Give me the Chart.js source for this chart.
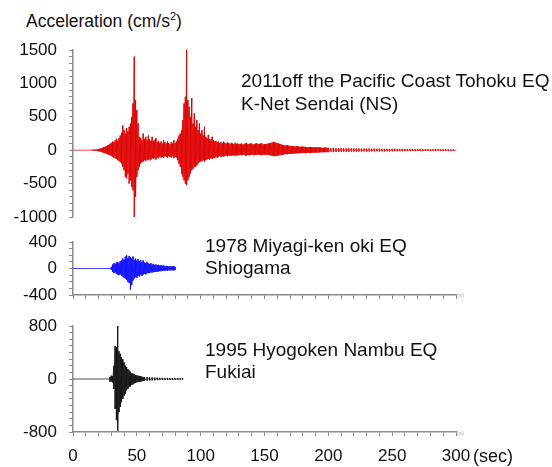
<!DOCTYPE html>
<html><head><meta charset="utf-8">
<script src="https://cdn.jsdelivr.net/npm/chart.js@4/dist/chart.umd.min.js"></script>
<style>
html,body{margin:0;padding:0;background:#fff;}
#wrap{position:relative;width:552px;height:467px;overflow:hidden;font-family:"Liberation Sans",Arial,sans-serif;color:#111;}
canvas{position:absolute;left:0;}
.lbl{position:absolute;font-size:19px;line-height:22px;white-space:nowrap;}
.title{position:absolute;font-size:17.5px;line-height:22px;white-space:nowrap;}
.tiny{position:absolute;font-size:6px;line-height:6px;color:#aaa;}
sup{font-size:11px;line-height:0;vertical-align:7px;}
</style></head><body>
<div id="wrap">
<canvas id="c1" width="552" height="194" style="top:36px"></canvas>
<canvas id="c2" width="552" height="78" style="top:229px"></canvas>
<canvas id="c3" width="552" height="154" style="top:313px"></canvas>
<div class="title" style="left:26px;top:10px">Acceleration (cm/s<sup>2</sup>)</div>
<div class="lbl" style="left:241px;top:69px;line-height:23px">2011off the Pacific Coast Tohoku EQ<br>K-Net Sendai (NS)</div>
<div class="lbl" style="left:205px;top:235px">1978 Miyagi-ken oki EQ<br>Shiogama</div>
<div class="lbl" style="left:205px;top:339px">1995 Hyogoken Nambu EQ<br>Fukiai</div>
<div class="lbl" style="left:473px;top:445px;font-size:18px">(sec)</div>
<div class="tiny" style="left:457px;top:292px">(s)</div>
<div class="tiny" style="left:457px;top:430px">(s)</div>
</div>
<script>
// [time (s), upper envelope, lower envelope] in cm/s^2
const tohokuEnv = [
[0,0,0],[14,0,0],
[15,5,-5],[16,6,-6],[17,8,-7],[18,10,-9],[19,12,-12],
[20,18,-15],[21,22,-20],[22,30,-25],[23,35,-32],[24,45,-40],[25,50,-45],[26,60,-50],[27,70,-60],[28,80,-70],[29,95,-75],
[30,110,-90],[31,130,-100],[32,120,-110],[33,150,-120],[34,170,-130],[35,140,-150],[36,180,-160],[37,220,-180],[38,260,-200],[39,370,-250],
[40,300,-300],[41,250,-400],[42,330,-420],[43,280,-350],[44,350,-500],[45,400,-450],[46,500,-550],[47,700,-600],[48,1400,-1000],[49,750,-700],
[50,600,-400],[51,400,-300],[52,200,-250],[53,180,-200],[54,150,-180],[55,250,-170],[56,170,-150],[57,200,-160],[58,150,-140],[59,220,-150],
[60,160,-130],[61,140,-150],[62,200,-120],[63,130,-130],[64,150,-120],[65,180,-140],[66,120,-110],[67,140,-120],[68,110,-100],[69,130,-110],
[70,100,-100],[71,150,-110],[72,120,-90],[73,100,-100],[74,130,-110],[75,110,-90],[76,90,-100],[77,120,-110],[78,100,-90],[79,150,-120],
[80,110,-100],[81,130,-110],[82,170,-150],[83,220,-200],[84,250,-250],[85,300,-350],[86,450,-400],[87,700,-450],[88,800,-500],[89,1500,-520],
[90,750,-450],[91,650,-400],[92,500,-350],[93,780,-300],[94,400,-280],[95,550,-250],[96,350,-250],[97,450,-230],[98,300,-200],[99,400,-180],
[100,250,-170],[101,300,-160],[102,220,-150],[103,350,-170],[104,200,-150],[105,180,-140],[106,230,-130],[107,170,-140],[108,160,-120],[109,200,-130],
[110,150,-110],[111,130,-120],[112,140,-100],[113,120,-110],[114,130,-100],[115,110,-90],[116,120,-100],[117,100,-90],[118,130,-95],[119,110,-90],
[120,100,-85],[121,120,-90],[122,105,-80],[123,95,-85],[124,110,-80],[125,100,-75],[126,90,-80],[127,110,-85],[128,95,-75],[129,100,-80],
[130,90,-70],[131,95,-72],[132,100,-75],[133,85,-70],[134,90,-70],[135,105,-78],[136,110,-80],[137,90,-72],[138,95,-75],[139,100,-68],
[140,100,-70],[141,88,-72],[142,90,-75],[143,98,-66],[144,105,-70],[145,92,-68],[146,95,-65],[147,102,-72],[148,100,-75],[149,88,-66],
[150,90,-65],[151,94,-68],[152,95,-70],[153,100,-72],[154,105,-75],[155,110,-78],[156,115,-80],[157,125,-88],[158,120,-90],[159,112,-85],
[160,105,-82],[161,100,-78],[162,95,-75],[163,88,-72],[164,80,-68],[165,75,-65],[166,70,-60],[167,72,-58],[168,75,-60],[169,68,-56],
[170,65,-55],[171,62,-52],[172,60,-50],[173,58,-52],[174,55,-50],[175,58,-46],[176,60,-45],[177,54,-46],[178,50,-45],[179,52,-42],
[180,55,-40],[181,50,-44],[182,50,-45],[183,47,-40],[184,45,-40],[185,48,-38],[186,50,-40],[187,46,-37],[188,45,-35],[189,42,-36],
[190,40,-35],[191,43,-34],[192,45,-35],[193,41,-32],[194,40,-30],[195,37,-31],[196,35,-30],[197,38,-29],[198,40,-30],[199,36,-29],
[200,35,-30],[202,30,-25],[204,35,-28],[206,30,-25],[208,28,-24],
[210,30,-25],[212,28,-22],[214,25,-22],[216,28,-24],[218,25,-20],
[220,26,-22],[222,24,-20],[224,26,-20],[226,22,-20],[228,25,-18],
[230,22,-20],[232,24,-18],[234,20,-18],[236,22,-18],[238,20,-16],
[240,22,-18],[242,20,-16],[244,18,-16],[246,20,-15],[248,18,-16],
[250,20,-15],[252,18,-14],[254,17,-15],[256,18,-14],[258,16,-14],
[260,18,-14],[262,16,-13],[264,15,-14],[266,16,-12],[268,15,-13],
[270,16,-12],[272,14,-12],[274,15,-12],[276,13,-11],[278,14,-12],
[280,13,-11],[282,12,-11],[284,13,-10],[286,12,-10],[288,11,-10],
[290,12,-10],[292,11,-9],[294,10,-9],[296,10,-8],[298,9,-8],[300,0,0]
];
const miyagiEnv = [
[0,0,0],[29.5,0,0],
[30,20,-20],[31,60,-50],[32,80,-70],[33,70,-60],[34,90,-80],[35,100,-90],[36,80,-100],[37,110,-90],[38,120,-110],[39,150,-120],
[40,130,-140],[41,180,-150],[42,200,-170],[43,160,-200],[44,190,-220],[45,170,-320],[46,150,-250],[47,180,-180],[48,130,-150],[49,150,-130],
[50,120,-140],[51,140,-110],[52,110,-120],[53,130,-100],[54,100,-110],[55,120,-90],[56,90,-80],[57,80,-90],[58,100,-70],[59,75,-70],
[60,70,-65],[61,80,-60],[62,60,-60],[63,70,-55],[64,55,-50],[65,60,-50],[66,50,-45],[67,55,-45],[68,45,-40],[69,50,-40],
[70,40,-35],[71,45,-35],[72,35,-30],[73,40,-30],[74,35,-30],[75,30,-25],[76,35,-30],[77,30,-25],[78,30,-25],[79,35,-30],[80,25,-20]
];
const hyogoEnv = [
[0,0,0],[28.5,0,0],
[29,30,-40],[30,50,-40],[31,40,-50],[32,200,-150],[33,500,-450],[34,480,-620],[35,800,-780],[36,420,-500],[37,380,-420],[38,330,-350],[39,300,-300],
[40,250,-250],[41,200,-220],[42,180,-170],[43,150,-150],[44,130,-120],[45,110,-110],[46,90,-90],[47,80,-80],[48,70,-65],[49,60,-60],
[50,55,-50],[51,50,-45],[52,45,-40],[53,40,-40],[54,35,-35],[55,30,-30],[56,30,-28],[58,28,-25],[60,25,-22],[62,22,-20],
[64,20,-18],[66,18,-16],[68,16,-15],[70,15,-14],[72,14,-12],[74,12,-12],[76,12,-10],[78,10,-10],[80,10,-9],[82,9,-8],[84,8,-8],[86,8,-7]
];
const xTickLabels = [0, 50, 100, 150, 200, 250, 300];
const tohokuTickLabels = [1500, 1000, 500, 0, -500, -1000];
const miyagiTickLabels = [400, 0, -400];
const hyogoTickLabels = [800, 0, -800];

function zigzag(env) {
  const pts = [];
  env.forEach(([t, hi, lo]) => {
    pts.push({x: t, y: hi});
    if (lo !== hi) pts.push({x: t, y: lo});
  });
  return pts;
}

const FONT = {family: '"Liberation Sans", Arial, sans-serif', size: 17};
const AXIS_COLOR = '#8a8a8a';
function noPad(s) { s.paddingTop = 0; s.paddingBottom = 0; s.paddingLeft = 0; s.paddingRight = 0; }

function makeChart(id, env, color, yMin, yMax, yLabels, xMode, pad) {
  const xScale = {
    type: 'linear', min: 0, max: 300,
    display: xMode !== 'none',
    border: {display: true, color: AXIS_COLOR, width: 1.5},
    grid: {drawOnChartArea: false, drawTicks: true, tickLength: 4, color: AXIS_COLOR},
    ticks: {
      stepSize: 10, autoSkip: false, maxRotation: 0, padding: 10,
      color: '#111', font: FONT,
      callback: v => (xMode === 'labels' && xTickLabels.includes(v)) ? String(v) : ''
    },
    afterFit: s => { s.height = xMode === 'labels' ? 35 : (xMode === 'ticks' ? 8 : 0); noPad(s); }
  };
  return new Chart(document.getElementById(id), {
    type: 'line',
    data: {datasets: [{
      data: zigzag(env), borderColor: color, borderWidth: 1,
      pointRadius: 0, tension: 0, fill: false
    }]},
    options: {
      responsive: false, animation: false, events: [],
      layout: {padding: {left: 0, right: 96, top: pad[0], bottom: pad[1]}},
      plugins: {legend: {display: false}, tooltip: {enabled: false}},
      scales: {
        x: xScale,
        y: {
          min: yMin, max: yMax,
          border: {display: true, color: AXIS_COLOR, width: 1.5},
          grid: {drawOnChartArea: false, tickLength: 4, color: AXIS_COLOR},
          ticks: {
            stepSize: 100, autoSkip: false, padding: 12, color: '#111', font: FONT,
            callback: v => yLabels.includes(v) ? String(v) : ''
          },
          afterFit: s => { s.width = 73; noPad(s); }
        }
      }
    }
  });
}

makeChart('c1', tohokuEnv, 'rgba(222,0,0,0.7)', -1000, 1500, tohokuTickLabels, 'none', [14, 13]);
makeChart('c2', miyagiEnv, 'rgba(20,20,255,0.8)', -400, 400, miyagiTickLabels, 'ticks', [13, 4]);
makeChart('c3', hyogoEnv, 'rgba(20,20,20,0.75)', -800, 800, hyogoTickLabels, 'labels', [13, 0]);
</script>
</body></html>
